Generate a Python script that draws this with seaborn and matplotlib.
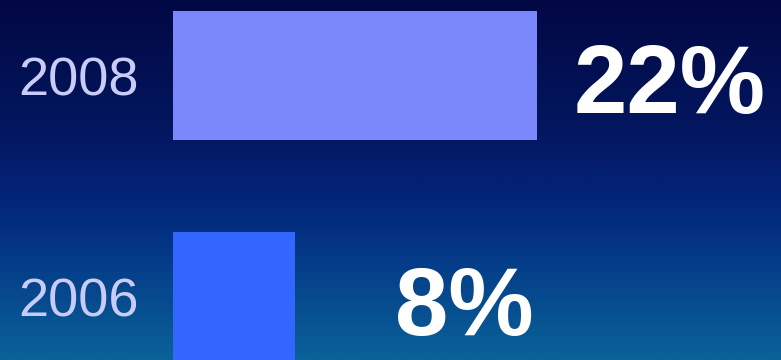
import numpy as np
import pandas as pd
import matplotlib
matplotlib.use("Agg")
import matplotlib.pyplot as plt
from matplotlib.colors import LinearSegmentedColormap
import seaborn as sns

# Data
years = ["2008", "2006"]
shares = [22, 8]
labels = ["22%", "8%"]
bar_colors = ["#7b88fc", "#3366ff"]

sns.set_theme(style="white")
plt.rcParams["font.family"] = ["Liberation Sans", "DejaVu Sans"]

fig = plt.figure(figsize=(7.81, 3.6), dpi=100)

# Background gradient
bg = fig.add_axes([0, 0, 1, 1], zorder=0)
grad_cmap = LinearSegmentedColormap.from_list(
    "bg",
    [(0.0, "#020844"), (0.35, "#03165e"), (0.55, "#03247a"),
     (0.75, "#053f8a"), (1.0, "#0a6298")],
)
grad = np.linspace(0, 1, 256).reshape(-1, 1)
bg.imshow(grad, aspect="auto", cmap=grad_cmap, extent=[0, 1, 1, 0])
bg.set_axis_off()

# Main axes
ax = fig.add_axes([173 / 781, 0, 1 - 173 / 781, 1], zorder=1)
ax.patch.set_alpha(0)

df = pd.DataFrame({"year": years, "share": shares})
sns.barplot(data=df, x="share", y="year", hue="year", palette=bar_colors,
            legend=False, orient="h", width=0.586, saturation=1,
            linewidth=0, edgecolor="none", ax=ax)

ax.set_xlim(0.94, 36.11)
ax.set_ylim(1.284, -0.341)

for i, (v, lab) in enumerate(zip(shares, labels)):
    off = 26.5 if i == 0 else 72
    ax.annotate(lab, xy=(v, i + 0.17), xytext=(off, 0), textcoords="offset points",
                ha="left", va="baseline", color="white", fontsize=69,
                fontweight="bold")

ax.set_xlabel("")
ax.set_ylabel("")
ax.set_xticks([])
ax.tick_params(axis="y", length=0, pad=25, labelsize=39, labelcolor="#c9ccf6")
for s in ax.spines.values():
    s.set_visible(False)

fig.savefig("out.png", dpi=100)
